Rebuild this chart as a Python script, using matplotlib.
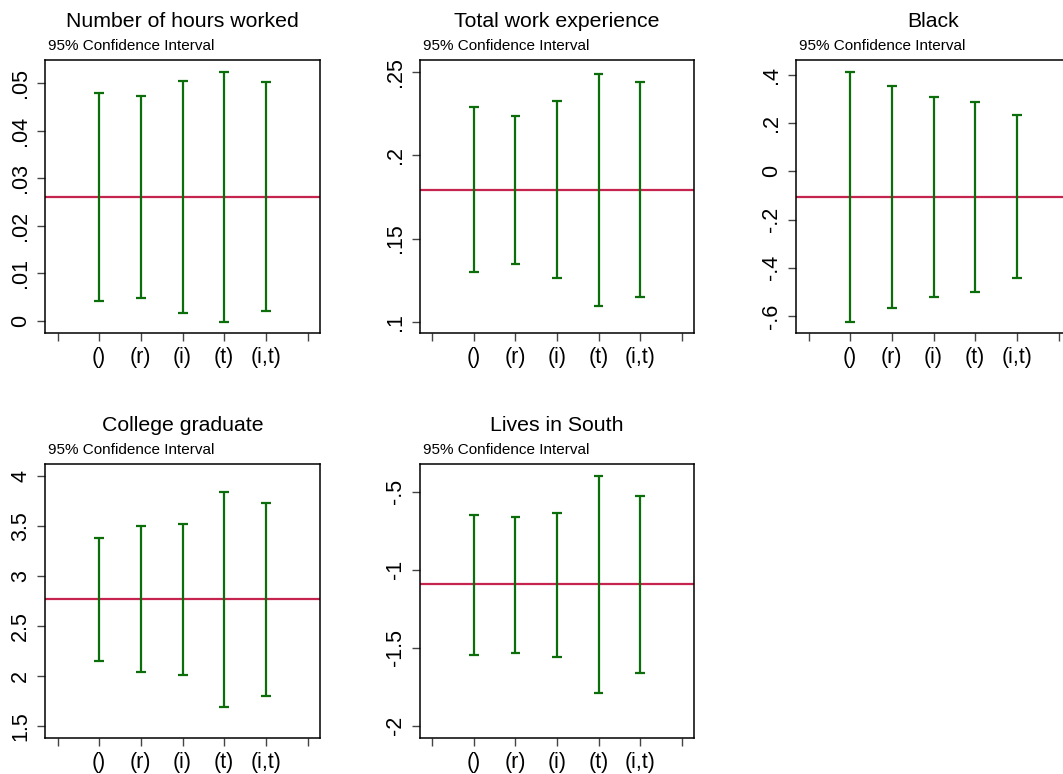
"""Coefficient CI panels: point estimate line plus 95% intervals per spec."""

import matplotlib

matplotlib.use("Agg")
import matplotlib.pyplot as plt

plt.rcParams["font.family"] = ["Liberation Sans", "DejaVu Sans"]

specs = ["()", "(r)", "(i)", "(t)", "(i,t)"]

titles = ["Number of hours worked", "Total work experience", "Black",
          "College graduate", "Lives in South"]

estimates = [0.0261, 0.1792, -0.106, 2.767, -1.094]

ci_low = [
    [0.0042, 0.0047, 0.0016, -0.0003, 0.0020],
    [0.1297, 0.1347, 0.1261, 0.1094, 0.1146],
    [-0.625, -0.567, -0.520, -0.499, -0.444],
    [2.153, 2.037, 2.010, 1.693, 1.800],
    [-1.545, -1.534, -1.557, -1.790, -1.662],
]
ci_high = [
    [0.0480, 0.0474, 0.0505, 0.0524, 0.0503],
    [0.2289, 0.2239, 0.2329, 0.2492, 0.2443],
    [0.414, 0.354, 0.307, 0.287, 0.234],
    [3.383, 3.497, 3.523, 3.843, 3.733],
    [-0.647, -0.660, -0.634, -0.398, -0.527],
]

yticks = [
    [0, 0.01, 0.02, 0.03, 0.04, 0.05],
    [0.1, 0.15, 0.2, 0.25],
    [-0.6, -0.4, -0.2, 0, 0.2, 0.4],
    [1.5, 2, 2.5, 3, 3.5, 4],
    [-2, -1.5, -1, -0.5],
]
ytick_labels = [
    ["0", ".01", ".02", ".03", ".04", ".05"],
    [".1", ".15", ".2", ".25"],
    ["-.6", "-.4", "-.2", "0", ".2", ".4"],
    ["1.5", "2", "2.5", "3", "3.5", "4"],
    ["-2", "-1.5", "-1", "-.5"],
]
ylims = [(-0.0026, 0.0549), (0.0932, 0.2574), (-0.671, 0.462),
         (1.38, 4.12), (-2.079, -0.3224)]

GREEN = "#0b6e0b"
RED = "#c4244e"

W, H = 1063, 774
# panel boxes in pixels: left, top, right, bottom
boxes = [(45, 60, 320, 333), (420, 60, 694, 333), (796, 60, 1071, 333),
         (45, 464, 320, 738), (420, 464, 694, 738)]

fig = plt.figure(figsize=(W / 100, H / 100), dpi=100)

for k, (l, t, r, b) in enumerate(boxes):
    ax = fig.add_axes([l / W, 1 - b / H, (r - l) / W, (b - t) / H])
    xs = list(range(1, len(specs) + 1))
    cap_l = [x - 0.12 for x in xs]
    cap_r = [x + 0.12 for x in xs]
    ax.axhline(estimates[k], color=RED, lw=1.6, zorder=1)
    ax.vlines(xs, ci_low[k], ci_high[k], color=GREEN, lw=1.6, zorder=2)
    ax.hlines(ci_low[k], cap_l, cap_r, color=GREEN, lw=1.6, zorder=2)
    ax.hlines(ci_high[k], cap_l, cap_r, color=GREEN, lw=1.6, zorder=2)

    ax.set_xlim(-0.3, 6.3)
    ax.set_xticks(range(0, 7))
    ax.set_xticklabels([""] + specs + [""], fontsize=15.5)
    ax.set_ylim(*ylims[k])
    ax.set_yticks(yticks[k])
    ax.set_yticklabels(ytick_labels[k], fontsize=15.5, rotation=90, va="center")
    ax.tick_params(direction="out", length=6, width=1, color="#444444", pad=4)
    for s in ax.spines.values():
        s.set_linewidth(1.1)

    ax.set_title(titles[k], fontsize=15.3, pad=24)
    ax.text(0.01, 1.025, "95% Confidence Interval", transform=ax.transAxes,
            fontsize=11, ha="left", va="bottom")

fig.savefig("out.png", dpi=100)
